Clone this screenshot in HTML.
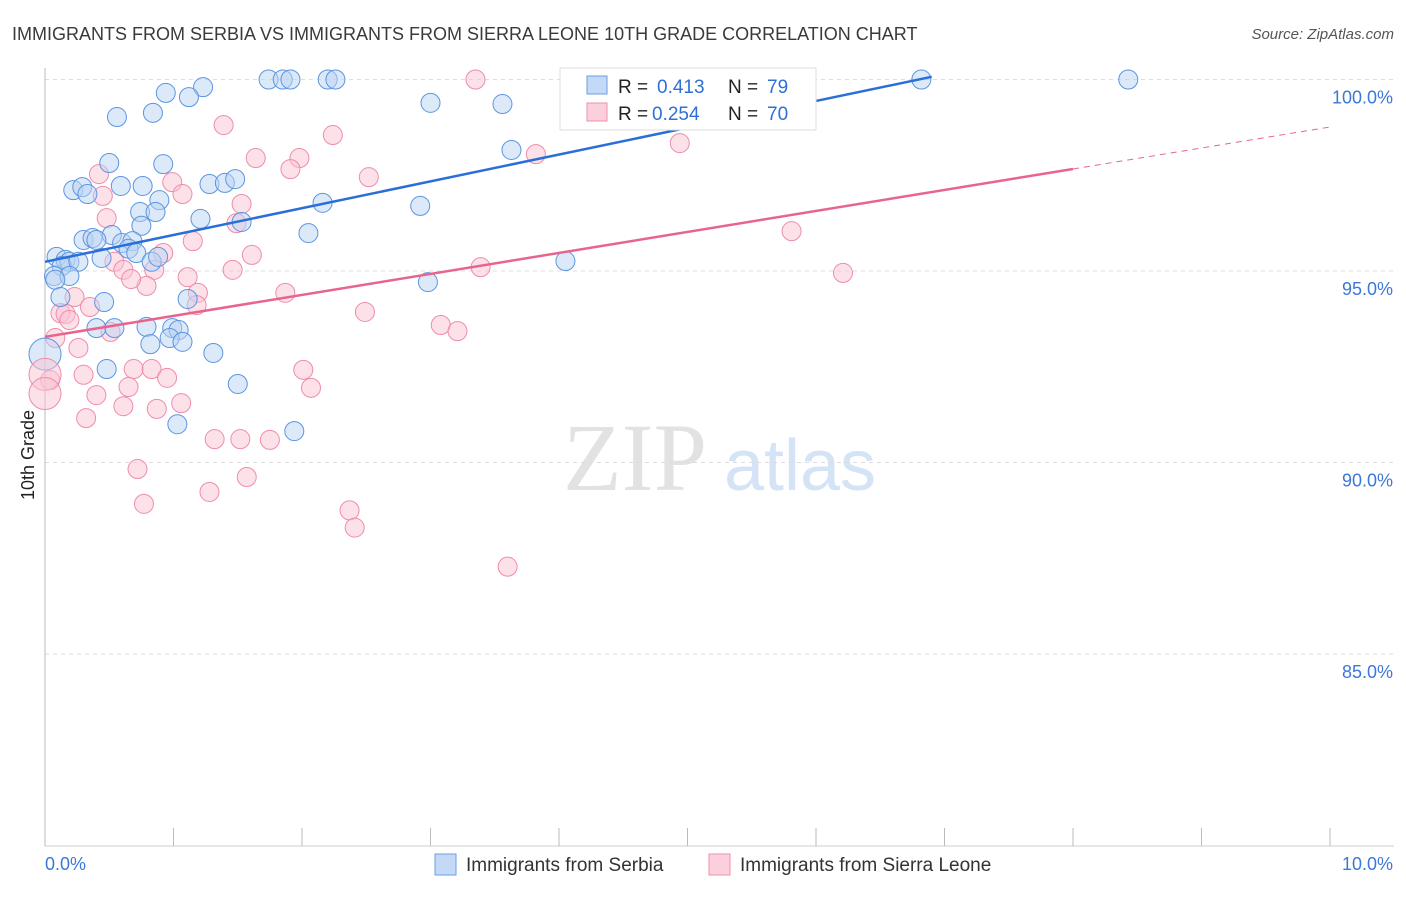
<!DOCTYPE html>
<html><head><meta charset="utf-8"><style>
body{margin:0;background:#fff;font-family:"Liberation Sans",sans-serif}
</style></head><body>
<svg width="1406" height="892" viewBox="0 0 1406 892" xmlns="http://www.w3.org/2000/svg">
<text x="12" y="40" font-size="18" fill="#3a3a3a">IMMIGRANTS FROM SERBIA VS IMMIGRANTS FROM SIERRA LEONE 10TH GRADE CORRELATION CHART</text>
<text x="1394" y="39" font-size="15" fill="#555" font-style="italic" text-anchor="end">Source: ZipAtlas.com</text>
<g><text x="635" y="490" font-size="96" fill="#e2e2e2" font-family="Liberation Serif,serif" text-anchor="middle">ZIP</text><text x="800" y="490" font-size="72" fill="#d4e3f5" text-anchor="middle">atlas</text></g>
<g id="grid"></g>
<g id="axes"></g>
<g id="marks"></g>
<text transform="translate(34,455) rotate(-90)" font-size="18" fill="#222" text-anchor="middle">10th Grade</text>
<g>
<rect x="560" y="68" width="256" height="62" fill="#fff" stroke="#ddd"/>
<g><rect x="587" y="76" width="20" height="18" fill="#c4d9f5" stroke="#6a9ee6"/>
<text x="618" y="93" font-size="19" fill="#222">R = </text><text x="657" y="93" font-size="19" fill="#2e6fd8">0.413</text>
<text x="728" y="93" font-size="19" fill="#222">N = </text><text x="767" y="93" font-size="19" fill="#2e6fd8">79</text></g>
<g><rect x="587" y="103" width="20" height="18" fill="#fbd0dc" stroke="#ee90ac"/>
<text x="618" y="120" font-size="19" fill="#222">R = </text><text x="652" y="120" font-size="19" fill="#2e6fd8">0.254</text>
<text x="728" y="120" font-size="19" fill="#222">N = </text><text x="767" y="120" font-size="19" fill="#2e6fd8">70</text></g>
</g>
<g>
<rect x="435" y="854" width="21" height="21" fill="#c4d9f5" stroke="#6a9ee6"/>
<text x="466" y="871" font-size="19" fill="#333">Immigrants from Serbia</text>
<rect x="709" y="854" width="21" height="21" fill="#fbd0dc" stroke="#ee90ac"/>
<text x="740" y="871" font-size="19" fill="#333">Immigrants from Sierra Leone</text>
</g>
</svg>
<script>
const yTicks=[100,95,90,85];
const yTickLabels=["100.0%","95.0%","90.0%","85.0%"];
const xTickLabels=["0.0%","10.0%"];
const serbiaX=[1.74,1.85,1.91,2.20,2.26,6.82,8.43,1.23,0.94,1.12,3.00,3.56,0.56,0.84,3.63,0.50,0.92,0.22,0.29,0.33,0.59,0.76,1.28,1.40,1.48,0.89,0.74,0.86,2.16,2.92,1.21,1.53,0.75,2.05,0.52,0.30,0.37,0.40,0.60,0.68,0.65,0.71,0.09,0.16,0.19,0.13,0.26,0.44,0.83,0.88,4.05,0.07,0.19,0.08,2.98,0.12,0.46,1.11,0.40,0.54,0.79,0.99,1.04,0.97,1.07,0.82,1.31,0.48,1.50,1.03,1.94];
const serbiaY=[100,100,100,100,100,100,100,99.80,99.65,99.54,99.39,99.36,99.02,99.13,98.16,97.82,97.79,97.11,97.19,97.01,97.22,97.22,97.27,97.30,97.40,96.85,96.54,96.54,96.78,96.70,96.36,96.28,96.18,95.99,95.94,95.81,95.86,95.81,95.73,95.78,95.58,95.47,95.37,95.29,95.24,95.13,95.24,95.34,95.24,95.37,95.26,94.87,94.87,94.77,94.71,94.32,94.19,94.27,93.51,93.51,93.54,93.51,93.46,93.25,93.15,93.09,92.86,92.44,92.05,91.00,90.82];
const leoneX=[3.35,1.39,2.24,4.94,3.82,1.64,1.98,1.91,2.52,0.42,0.99,1.07,0.45,0.48,1.49,1.53,1.15,1.61,0.92,0.54,0.61,0.85,1.11,1.46,3.39,5.81,6.21,0.79,0.67,1.19,1.87,0.23,0.35,0.12,0.16,0.19,0.51,1.18,2.49,3.08,3.21,0.08,0.26,0.04,0.30,0.69,0.83,0.95,2.01,2.07,0.65,0.40,1.06,0.61,0.87,0.32,1.32,1.52,1.75,0.72,1.57,1.28,0.77,2.37,2.41,3.60];
const leoneY=[100,98.81,98.55,98.34,98.05,97.95,97.95,97.66,97.45,97.53,97.32,97.01,96.96,96.38,96.25,96.75,95.78,95.42,95.47,95.24,95.03,95.03,94.84,95.03,95.10,96.04,94.95,94.61,94.79,94.43,94.43,94.32,94.06,93.90,93.88,93.72,93.41,94.11,93.93,93.59,93.43,93.25,92.99,92.15,92.29,92.44,92.44,92.21,92.42,91.95,91.97,91.76,91.55,91.47,91.40,91.16,90.61,90.61,90.59,89.83,89.62,89.23,88.92,88.75,88.30,87.28];
const bigX=[0.0,0.0,0.0];
const bigY=[92.83,92.3,91.8];
const serbiaTrend=[95.24,0.70];
const leoneTrend=[93.28,0.548];
const NS="http://www.w3.org/2000/svg";
const xs=v=>45+v*128.5;
const ys=v=>79.5+(100-v)*38.3;
function mk(t,a,p){const e=document.createElementNS(NS,t);for(const k in a)e.setAttribute(k,a[k]);p.appendChild(e);return e;}
const grid=document.getElementById('grid'),axes=document.getElementById('axes'),marks=document.getElementById('marks');
yTicks.forEach((t,i)=>{
 const l=mk('line',{x1:45,x2:1394,y1:ys(t),y2:ys(t),stroke:'#ddd','stroke-dasharray':'4,4'},grid);
 
 
 const tx=mk('text',{x:1393,y:ys(t)+24,'font-size':18,fill:'#3b78d8','text-anchor':'end'},axes);
 tx.textContent=yTickLabels[i];
 
 
});
const ax=mk('line',{x1:45,x2:45,y1:68,y2:846,stroke:'#bbb'},axes);


const bx=mk('line',{x1:45,x2:1394,y1:846,y2:846,stroke:'#ccc'},axes);


for(let i=0;i<=10;i++){const t=mk('line',{x1:xs(i),x2:xs(i),y1:828,y2:846,stroke:'#bbb'},axes);
 
 }
[[0,'start',45],[10,'end',1393]].forEach((d,i)=>{const t=mk('text',{x:d[2],y:870,'font-size':18,fill:'#3b78d8','text-anchor':d[1]},axes);
 t.textContent=xTickLabels[i];
 
 });
function dots(X,Y,fill,stroke,name){X.forEach((x,i)=>{const c=mk('circle',{cx:xs(x),cy:ys(Y[i]),r:9.5,fill:fill,'fill-opacity':0.5,stroke:stroke,'stroke-width':1},marks);
 
 });}
dots(leoneX,leoneY,'#f9c3d3','#ee8dab','point-sierra-leone');
dots(serbiaX,serbiaY,'#b9d3f3','#5d95e0','point-serbia');
bigX.forEach((x,i)=>{const c=mk('circle',{cx:xs(x),cy:ys(bigY[i]),r:16,fill:i==0?'#b9d3f3':'#f9c3d3','fill-opacity':0.5,stroke:i==0?'#5d95e0':'#ee8dab'},marks);
 
 });
let l=mk('line',{x1:xs(0),y1:ys(serbiaTrend[0]),x2:xs(6.9),y2:ys(serbiaTrend[0]+serbiaTrend[1]*6.9),stroke:'#2a6fd8','stroke-width':2.5},marks);


l=mk('line',{x1:xs(0),y1:ys(leoneTrend[0]),x2:xs(8),y2:ys(leoneTrend[0]+leoneTrend[1]*8),stroke:'#e8648f','stroke-width':2.5},marks);


l=mk('line',{x1:xs(8),y1:ys(leoneTrend[0]+leoneTrend[1]*8),x2:xs(10),y2:ys(leoneTrend[0]+leoneTrend[1]*10),stroke:'#e8648f','stroke-width':1,'stroke-dasharray':'6,5'},marks);


</script>
</body></html>
